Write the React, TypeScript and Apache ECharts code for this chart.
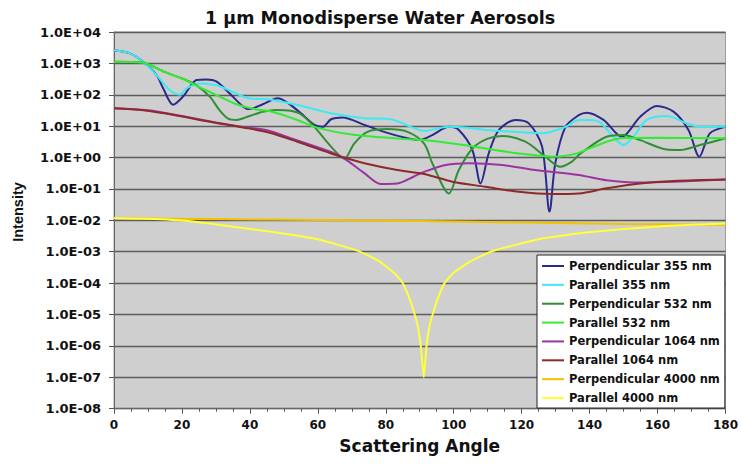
import React, { useEffect, useRef } from "react";
import * as echarts from "echarts";

const TITLE = "1 \u00b5m Monodisperse Water Aerosols";
const X_NAME = "Scattering Angle";
const Y_NAME = "Intensity";

const SERIES_NAMES = [
  "Perpendicular 355 nm",
  "Parallel 355 nm",
  "Perpendicular 532 nm",
  "Parallel 532 nm",
  "Perpendicular 1064 nm",
  "Parallel 1064 nm",
  "Perpendicular 4000 nm",
  "Parallel 4000 nm",
];

const COLORS = ["#2a2a8c", "#3fe9f4", "#2f8f35", "#35ea35", "#9b34a0", "#8e2a2a", "#f2c200", "#ffff3a"];

const PERP355_ANGLES = [0, 4.7, 8.6, 12.5, 14.5, 17.4, 20.3, 24.3, 27.2, 30.1, 34, 38, 39.9, 43.8, 48.2, 54, 59, 61.4, 63.9, 67.3, 73.7, 79.5, 86.4, 89.8, 93.7, 98.6, 101.5, 105.5, 107.9, 110.3, 113.3, 118.2, 122.1, 126, 128.2, 129.9, 132.9, 136.8, 139.2, 144.1, 149.5, 154.9, 159.8, 164.7, 169.1, 172.3, 175.4, 180];
const PERP355_VALUES = [2630, 2090, 1120, 427, 158, 48, 87, 295, 309, 269, 112, 42, 35, 50, 78, 32, 11, 9.5, 16.6, 19, 11, 6.6, 4.1, 3.6, 5.2, 9.5, 7.6, 1.74, 0.15, 1.35, 7.6, 15.8, 12.3, 2.24, 0.019, 0.66, 9.5, 22.4, 27, 15.8, 4.6, 20, 44, 29, 7.6, 1.07, 5.9, 9.5];

const PAR355_ANGLES = [0, 4.7, 8.6, 12.5, 16.4, 19.4, 21.3, 23.3, 25.2, 30.1, 35, 39.9, 45.8, 54, 63.9, 73.7, 81.5, 87.4, 91.3, 98.6, 104, 109.4, 118, 126, 132.9, 136.8, 140, 143.1, 147, 150, 152.9, 156.8, 162.7, 168.6, 172.5, 180];
const PAR355_VALUES = [2630, 2090, 1120, 427, 141, 100, 158, 204, 229, 200, 123, 76, 71, 47, 26, 18, 16.6, 9.5, 7.1, 9.5, 8.9, 7.6, 6.6, 5.9, 9.5, 15.8, 15.8, 13.2, 4.6, 2.5, 4.6, 15.8, 21, 12.3, 9.5, 9.5];

const PERP532_ANGLES = [0, 8.6, 10.6, 15, 20, 24.3, 28.2, 31.1, 33.6, 36, 39.9, 43.8, 48, 52, 55, 59, 63.9, 67.8, 70.7, 74.6, 80.5, 86.4, 91.3, 93.7, 98.6, 101.5, 105.5, 110, 114.3, 121.1, 127, 131.4, 134.8, 137, 145, 150, 154.9, 162.7, 166.6, 172.5, 180];
const PERP532_VALUES = [1120, 1050, 890, 525, 331, 200, 87, 32, 17.4, 15.8, 21, 29, 33, 31, 24, 9.5, 2.24, 0.93, 2.8, 6.6, 8.1, 6.6, 2.8, 0.66, 0.072, 0.4, 1.95, 4.0, 4.9, 3.2, 1.07, 0.51, 0.74, 1.26, 4.6, 5.2, 3.6, 1.8, 1.74, 2.5, 4.1];

const PAR532_ANGLES = [0, 8.6, 10.6, 15, 20, 25, 30, 36, 42, 46, 54, 59, 69, 78.5, 91, 99.6, 109.4, 119.2, 129, 133, 136.8, 145, 150, 160, 180];
const PAR532_VALUES = [1120, 1050, 890, 525, 331, 178, 100, 50, 34, 30, 15.8, 9.5, 5.6, 4.4, 3.6, 2.8, 1.95, 1.35, 1.07, 1.15, 1.41, 3.2, 4.2, 4.3, 4.1];

const PERP1064_ANGLES = [0, 10, 20, 30, 38, 45, 54, 63.9, 67.8, 73.7, 78.5, 83.4, 88.3, 91.3, 97.6, 104.5, 114.3, 124, 136.8, 145, 154.9, 165, 180];
const PERP1064_VALUES = [37, 32, 21, 13.2, 9.5, 7.4, 3.5, 1.5, 0.93, 0.32, 0.145, 0.15, 0.25, 0.35, 0.58, 0.66, 0.58, 0.4, 0.28, 0.19, 0.16, 0.17, 0.2];

const PAR1064_ANGLES = [0, 8.6, 18.4, 28.2, 38, 45.8, 54, 63.9, 67.8, 73.7, 83.4, 91.3, 99.6, 109.4, 119.2, 129, 136.8, 145, 154.9, 164.7, 180];
const PAR1064_VALUES = [37, 32, 22, 13.8, 9.1, 6.2, 3.2, 1.35, 1.0, 0.66, 0.4, 0.3, 0.17, 0.117, 0.081, 0.069, 0.072, 0.105, 0.15, 0.18, 0.2];

const PERP4000_ANGLES = [0, 30, 60, 90, 120, 150, 180];
const PERP4000_VALUES = [0.0118, 0.011, 0.0102, 0.0095, 0.0085, 0.0077, 0.0072];

const PAR4000_ANGLES = [0, 10, 22, 35, 45.3, 60, 72, 78, 82.5, 85, 87.1, 88.5, 89.4, 90.3, 91.2, 92.0, 92.9, 93.8, 95.2, 97.3, 99.9, 105, 111.5, 125, 138.2, 161.4, 180];
const PAR4000_VALUES = [0.0118, 0.0112, 0.0095, 0.0063, 0.0045, 0.0025, 0.00105, 5.0e-4, 2.1e-4, 1.0e-4, 3.0e-5, 1.0e-5, 4.4e-6, 1.0e-6, 1.0e-7, 1.0e-6, 4.4e-6, 1.0e-5, 3.0e-5, 1.0e-4, 2.1e-4, 5.0e-4, 1.05e-3, 0.0025, 0.004, 0.0065, 0.0079];

const SERIES_DATA = [
  [PERP355_ANGLES, PERP355_VALUES],
  [PAR355_ANGLES, PAR355_VALUES],
  [PERP532_ANGLES, PERP532_VALUES],
  [PAR532_ANGLES, PAR532_VALUES],
  [PERP1064_ANGLES, PERP1064_VALUES],
  [PAR1064_ANGLES, PAR1064_VALUES],
  [PERP4000_ANGLES, PERP4000_VALUES],
  [PAR4000_ANGLES, PAR4000_VALUES],
];

const FONT = "DejaVu Sans";

function formatExp(v: number): string {
  const e = Math.round(Math.log10(v));
  const sign = e < 0 ? "-" : "+";
  return "1.0E" + sign + String(Math.abs(e)).padStart(2, "0");
}

export default function App() {
  const ref = useRef<HTMLDivElement>(null);
  useEffect(() => {
    if (!ref.current) return;
    const chart = echarts.init(ref.current, null, { renderer: "svg" });
    const series = SERIES_NAMES.map((name, i) => {
      const [xs, ys] = SERIES_DATA[i];
      return {
        name,
        type: "line",
        data: xs.map((x, j) => [x, ys[j]]),
        symbol: "none",
        smooth: i === 7 ? 0.15 : 0.3,
        lineStyle: { color: COLORS[i], width: 2 },
        itemStyle: { color: COLORS[i] },
      };
    });
    chart.setOption({
      animation: false,
      backgroundColor: "#ffffff",
      title: {
        text: TITLE,
        left: 205,
        top: 0,
        padding: [9, 0, 0, 0],
        textStyle: { fontFamily: FONT, fontWeight: "bold", fontSize: 17.5, color: "#111" },
      },
      grid: {
        left: 114,
        right: 13.5,
        top: 32,
        bottom: 56.3,
        show: true,
        backgroundColor: "#cfcfcf",
        borderColor: "#9a9a9a",
        borderWidth: 1,
      },
      legend: {
        orient: "vertical",
        left: 537,
        top: 255,
        padding: [4, 5, 3, 5],
        itemWidth: 22,
        itemHeight: 14,
        itemGap: 4.86,
        icon: "path://M0,0 L22,0 L22,2 L0,2 Z",
        backgroundColor: "#ffffff",
        borderColor: "#222",
        borderWidth: 1,
        textStyle: { fontFamily: FONT, fontWeight: "bold", fontSize: 11.5, lineHeight: 14, color: "#111" },
      },
      xAxis: {
        type: "value",
        min: 0,
        max: 180,
        interval: 20,
        name: X_NAME,
        nameLocation: "middle",
        nameGap: 29,
        nameTextStyle: { fontFamily: FONT, fontWeight: "bold", fontSize: 17, color: "#111" },
        axisLine: { lineStyle: { color: "#666", width: 1 } },
        axisTick: { show: true, length: 5, lineStyle: { color: "#555" } },
        minorTick: { show: true, splitNumber: 4, length: 3, lineStyle: { color: "#555" } },
        axisLabel: { fontFamily: FONT, fontWeight: "bold", fontSize: 12, color: "#111", margin: 10 },
        splitLine: { show: false },
      },
      yAxis: {
        type: "log",
        logBase: 10,
        min: 1e-8,
        max: 1e4,
        interval: 1,
        splitNumber: 12,
        axisLine: { show: true, lineStyle: { color: "#666", width: 1 } },
        axisTick: { show: true, length: 5, lineStyle: { color: "#555" } },
        axisLabel: { fontFamily: FONT, fontWeight: "bold", fontSize: 13, color: "#111", margin: 13, formatter: formatExp, hideOverlap: false },
        splitLine: { show: true, lineStyle: { color: "#5c5c5c", width: 1.4 } },
      },
      graphic: [
        {
          type: "text",
          x: 18,
          y: 212,
          rotation: Math.PI / 2,
          style: {
            text: Y_NAME,
            fontFamily: "Liberation Sans",
            fontWeight: "bold",
            fontSize: 14.5,
            fill: "#111",
            textAlign: "center",
            textVerticalAlign: "middle",
          },
        },
      ],
      series,
    });
    return () => chart.dispose();
  }, []);
  return <div ref={ref} style={{ position: "fixed", left: 0, top: 0, width: 741, height: 465 }} />;
}
